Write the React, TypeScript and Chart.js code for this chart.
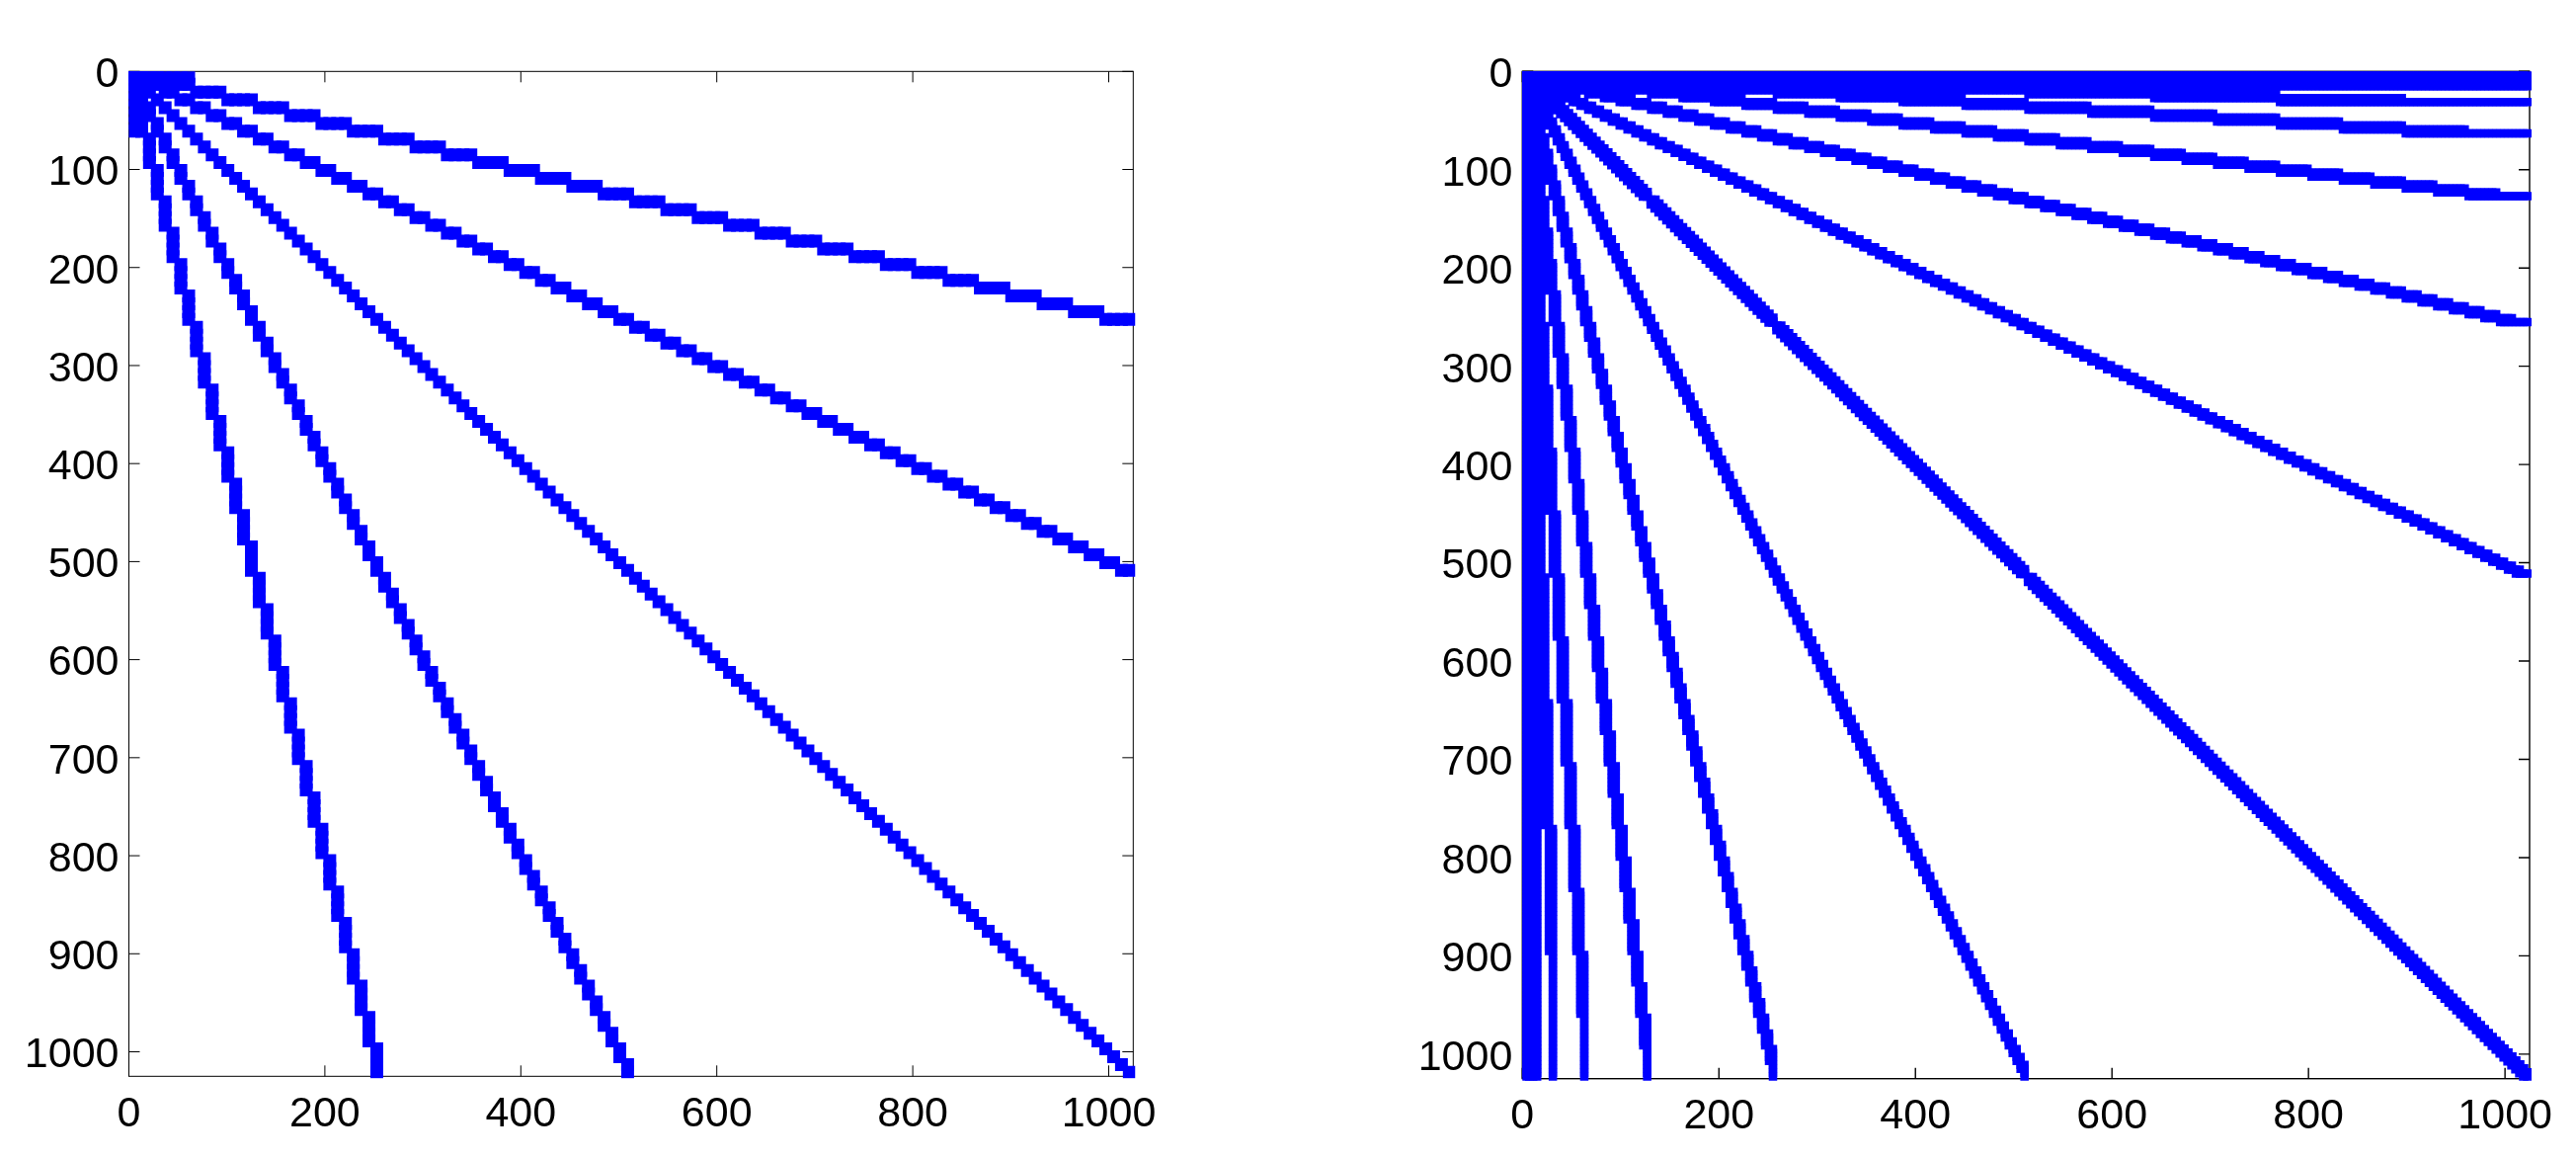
import { useEffect, useRef } from 'react';
import { Chart, registerables } from 'chart.js';

Chart.register(...registerables);

// left matrix: one marker every 8 columns
const leftColumns = [
  5, 13, 21, 29, 37, 45, 53, 61, 69, 77, 85, 93, 101, 109, 117, 125,
  133, 141, 149, 157, 165, 173, 181, 189, 197, 205, 213, 221, 229, 237, 245, 253,
  261, 269, 277, 285, 293, 301, 309, 317, 325, 333, 341, 349, 357, 365, 373, 381,
  389, 397, 405, 413, 421, 429, 437, 445, 453, 461, 469, 477, 485, 493, 501, 509,
  517, 525, 533, 541, 549, 557, 565, 573, 581, 589, 597, 605, 613, 621, 629, 637,
  645, 653, 661, 669, 677, 685, 693, 701, 709, 717, 725, 733, 741, 749, 757, 765,
  773, 781, 789, 797, 805, 813, 821, 829, 837, 845, 853, 861, 869, 877, 885, 893,
  901, 909, 917, 925, 933, 941, 949, 957, 965, 973, 981, 989, 997, 1005, 1013, 1021,
];
const leftHalfRows = [
  5, 13, 21, 29, 37, 45, 53, 61, 69, 77, 85, 93, 101, 109, 117, 125,
  133, 141, 149, 157, 165, 173, 181, 189, 197, 205, 213, 221, 229, 237, 245, 253,
  261, 269, 277, 285, 293, 301, 309, 317, 325, 333, 341, 349, 357, 365, 373, 381,
  389, 397, 405, 413, 421, 429, 437, 445, 453, 461, 469, 477, 485, 493, 501, 509,
];
const leftQuarterRows = [
  5, 13, 21, 29, 37, 45, 53, 61, 69, 77, 85, 93, 101, 109, 117, 125,
  133, 141, 149, 157, 165, 173, 181, 189, 197, 205, 213, 221, 229, 237, 245, 253,
];
const leftCorner = [5, 13, 21, 29, 37, 45, 53, 61];
const leftCornerRows = [5, 13];

// right matrix: one marker every 4 columns
const rightColumns = [
  3, 7, 11, 15, 19, 23, 27, 31, 35, 39, 43, 47, 51, 55, 59, 63,
  67, 71, 75, 79, 83, 87, 91, 95, 99, 103, 107, 111, 115, 119, 123, 127,
  131, 135, 139, 143, 147, 151, 155, 159, 163, 167, 171, 175, 179, 183, 187, 191,
  195, 199, 203, 207, 211, 215, 219, 223, 227, 231, 235, 239, 243, 247, 251, 255,
  259, 263, 267, 271, 275, 279, 283, 287, 291, 295, 299, 303, 307, 311, 315, 319,
  323, 327, 331, 335, 339, 343, 347, 351, 355, 359, 363, 367, 371, 375, 379, 383,
  387, 391, 395, 399, 403, 407, 411, 415, 419, 423, 427, 431, 435, 439, 443, 447,
  451, 455, 459, 463, 467, 471, 475, 479, 483, 487, 491, 495, 499, 503, 507, 511,
  515, 519, 523, 527, 531, 535, 539, 543, 547, 551, 555, 559, 563, 567, 571, 575,
  579, 583, 587, 591, 595, 599, 603, 607, 611, 615, 619, 623, 627, 631, 635, 639,
  643, 647, 651, 655, 659, 663, 667, 671, 675, 679, 683, 687, 691, 695, 699, 703,
  707, 711, 715, 719, 723, 727, 731, 735, 739, 743, 747, 751, 755, 759, 763, 767,
  771, 775, 779, 783, 787, 791, 795, 799, 803, 807, 811, 815, 819, 823, 827, 831,
  835, 839, 843, 847, 851, 855, 859, 863, 867, 871, 875, 879, 883, 887, 891, 895,
  899, 903, 907, 911, 915, 919, 923, 927, 931, 935, 939, 943, 947, 951, 955, 959,
  963, 967, 971, 975, 979, 983, 987, 991, 995, 999, 1003, 1007, 1011, 1015, 1019, 1023,
];
const rightHalfRows = [
  3, 7, 11, 15, 19, 23, 27, 31, 35, 39, 43, 47, 51, 55, 59, 63,
  67, 71, 75, 79, 83, 87, 91, 95, 99, 103, 107, 111, 115, 119, 123, 127,
  131, 135, 139, 143, 147, 151, 155, 159, 163, 167, 171, 175, 179, 183, 187, 191,
  195, 199, 203, 207, 211, 215, 219, 223, 227, 231, 235, 239, 243, 247, 251, 255,
  259, 263, 267, 271, 275, 279, 283, 287, 291, 295, 299, 303, 307, 311, 315, 319,
  323, 327, 331, 335, 339, 343, 347, 351, 355, 359, 363, 367, 371, 375, 379, 383,
  387, 391, 395, 399, 403, 407, 411, 415, 419, 423, 427, 431, 435, 439, 443, 447,
  451, 455, 459, 463, 467, 471, 475, 479, 483, 487, 491, 495, 499, 503, 507, 511,
];
const rightQuarterRows = [
  3, 7, 11, 15, 19, 23, 27, 31, 35, 39, 43, 47, 51, 55, 59, 63,
  67, 71, 75, 79, 83, 87, 91, 95, 99, 103, 107, 111, 115, 119, 123, 127,
  131, 135, 139, 143, 147, 151, 155, 159, 163, 167, 171, 175, 179, 183, 187, 191,
  195, 199, 203, 207, 211, 215, 219, 223, 227, 231, 235, 239, 243, 247, 251, 255,
];
const rightEighthRows = [
  3, 7, 11, 15, 19, 23, 27, 31, 35, 39, 43, 47, 51, 55, 59, 63,
  67, 71, 75, 79, 83, 87, 91, 95, 99, 103, 107, 111, 115, 119, 123, 127,
];
const rightSixteenthRows = [3, 7, 11, 15, 19, 23, 27, 31, 35, 39, 43, 47, 51, 55, 59, 63];
const rightThirtySecondRows = [3, 7, 11, 15, 19, 23, 27, 31];
const rightBandRows = [3, 7, 11, 15];
// the diagonal has a thin neck where these columns meet the next block
const rightDiagonalBreaks = [127, 255, 511];

const axisMax = 1025;
const xTicks = [0, 200, 400, 600, 800, 1000];
const yTicks = [0, 100, 200, 300, 400, 500, 600, 700, 800, 900, 1000];

type Pt = { x: number; y: number };

// each row lasts for `run` columns, which gives the staircase of a sparse diagonal
const hold = (rows: number[], run: number) => rows.flatMap((r) => Array(run).fill(r));

const ray = (xs: number[], ys: number[]): Pt[] => ys.map((y, i) => ({ x: xs[i], y }));
const both = (xs: number[], ys: number[]): Pt[] => [...ray(xs, ys), ...ray(ys, xs)];

// in the right matrix every column touches its row and the one below it
const doubled = (rows: number[], run: number): Pt[] => [
  ...both(rightColumns, hold(rows, run)),
  ...both(rightColumns, hold(rows.slice(1), run)),
];

const leftPoints: Pt[] = [
  ...ray(leftColumns, leftColumns),
  ...both(leftColumns, hold(leftHalfRows, 2)),
  ...both(leftColumns, hold(leftQuarterRows, 4)),
  ...leftCornerRows.flatMap((r) => both(leftCorner, hold([r], leftCorner.length))),
];

const rightPoints: Pt[] = [
  ...doubled(rightHalfRows, 2),
  ...doubled(rightQuarterRows, 4),
  ...doubled(rightEighthRows, 8),
  ...doubled(rightSixteenthRows, 16),
  ...doubled(rightThirtySecondRows, 32),
  ...rightBandRows.flatMap((r) => both(rightColumns, hold([r], rightColumns.length))),
];

// main diagonal of the right matrix is a little heavier than its other rays
const rightDiagonal: Pt[] = [
  ...ray(rightColumns, rightColumns),
  ...both(rightColumns, rightColumns.slice(1)).filter(
    (p) => !rightDiagonalBreaks.includes(Math.min(p.x, p.y))
  ),
];

// axes box and inward ticks on all four sides, under the markers like the original
const boxPlugin = {
  id: 'box',
  beforeDatasetsDraw(chart: any, _args: any, opts: any) {
    const { ctx, chartArea: a, scales } = chart;
    const len = 11;
    ctx.save();
    ctx.strokeStyle = '#000';
    ctx.lineWidth = opts.lineWidth;
    ctx.strokeRect(a.left, a.top, a.right - a.left, a.bottom - a.top);
    ctx.beginPath();
    scales.x.ticks.forEach((t: any) => {
      const p = scales.x.getPixelForValue(t.value);
      ctx.moveTo(p, a.top);
      ctx.lineTo(p, a.top + len);
      ctx.moveTo(p, a.bottom);
      ctx.lineTo(p, a.bottom - len);
    });
    scales.y.ticks.forEach((t: any) => {
      const p = scales.y.getPixelForValue(t.value);
      ctx.moveTo(a.left, p);
      ctx.lineTo(a.left + len, p);
      ctx.moveTo(a.right, p);
      ctx.lineTo(a.right - len, p);
    });
    ctx.stroke();
    ctx.restore();
  },
};

type PlotProps = {
  series: { points: Pt[]; side: number }[];
  left: number;
  width: number;
  area: { left: number; top: number; right: number; bottom: number };
  fontSize: number;
  lineWidth: number;
};

function SpyPlot({ series, left, width, area, fontSize, lineWidth }: PlotProps) {
  const canvasRef = useRef<HTMLCanvasElement>(null);

  useEffect(() => {
    if (!canvasRef.current) return;
    const font = { family: '"Liberation Sans", Arial, sans-serif', size: fontSize };
    const plainLabel = (v: any) => String(v);
    const chart = new Chart(canvasRef.current, {
      type: 'scatter',
      data: {
        datasets: series.map((s) => ({
          data: s.points,
          showLine: false,
          pointStyle: 'rect',
          pointRadius: s.side / Math.SQRT2,
          pointBorderWidth: 0,
          pointBackgroundColor: '#0000ff',
          clip: { left: 0, top: 0, right: 2, bottom: 2 },
        })),
      },
      options: {
        responsive: false,
        animation: false,
        devicePixelRatio: 1,
        events: [],
        layout: { padding: { top: area.top, right: width - area.right } },
        plugins: { legend: { display: false }, tooltip: { enabled: false }, box: { lineWidth } },
        scales: {
          x: {
            type: 'linear',
            min: 0,
            max: axisMax,
            border: { display: false },
            grid: { display: false, drawTicks: false },
            afterBuildTicks: (s: any) => {
              s.ticks = xTicks.map((value) => ({ value }));
            },
            afterFit: (s: any) => {
              s.height = 1173 - area.bottom;
            },
            ticks: { font, color: '#000', padding: 13, maxRotation: 0, autoSkip: false, callback: plainLabel },
          },
          y: {
            type: 'linear',
            reverse: true,
            min: 0,
            max: axisMax,
            border: { display: false },
            grid: { display: false, drawTicks: false },
            afterBuildTicks: (s: any) => {
              s.ticks = yTicks.map((value) => ({ value }));
            },
            afterFit: (s: any) => {
              s.width = area.left;
            },
            ticks: { font, color: '#000', padding: 10, labelOffset: 4, autoSkip: false, callback: plainLabel },
          },
        },
      },
      plugins: [boxPlugin],
    } as any);
    return () => chart.destroy();
  }, []);

  return (
    <canvas
      ref={canvasRef}
      width={width}
      height={1173}
      style={{ position: 'absolute', left, top: 0, width, height: 1173 }}
    />
  );
}

export default function App() {
  return (
    <div style={{ position: 'fixed', left: 0, top: 0, width: 2608, height: 1173, background: '#fff' }}>
      <SpyPlot
        series={[{ points: leftPoints, side: 13 }]}
        left={0}
        width={1304}
        area={{ left: 130.5, top: 72.3, right: 1147.3, bottom: 1089.3 }}
        fontSize={43}
        lineWidth={1}
      />
      <SpyPlot
        series={[
          { points: rightPoints, side: 8.5 },
          { points: rightDiagonal, side: 9.5 },
        ]}
        left={1304}
        width={1304}
        area={{ left: 237.3, top: 72.3, right: 1257, bottom: 1091.7 }}
        fontSize={43}
        lineWidth={1.4}
      />
    </div>
  );
}
